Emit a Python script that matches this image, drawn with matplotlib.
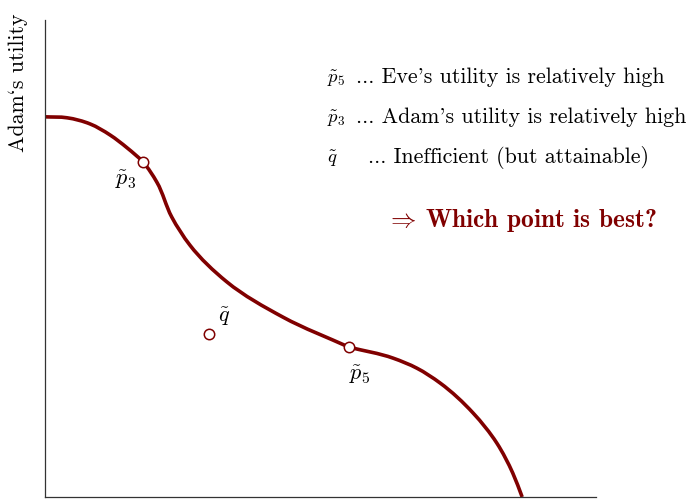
import matplotlib.pyplot as plt
from matplotlib.path import Path
from matplotlib.patches import PathPatch

plt.rcParams["font.family"] = "cmr10"
plt.rcParams["mathtext.fontset"] = "cm"
plt.rcParams["axes.unicode_minus"] = False

# Utility possibility frontier (Eve on x, Adam on y), drawn in two pieces
# that meet at p5
upper_x = [0.00, 0.40, 0.82, 1.18, 1.49, 1.78, 2.03, 2.30, 2.63, 3.30, 4.32, 5.52]
upper_y = [7.97, 7.95, 7.82, 7.59, 7.32, 7.02, 6.60, 5.87, 5.28, 4.51, 3.77, 3.14]
lower_x = [5.52, 6.32, 6.75, 7.17, 7.77, 8.20, 8.49, 8.66]
lower_y = [3.14, 2.91, 2.70, 2.39, 1.76, 1.13, 0.50, 0.00]

frontier_pts = {"p3": (1.78, 7.02), "p5": (5.52, 3.14)}
inner_pt = (2.98, 3.42)

red = "#800000"
# rough pixels per data unit, so the spline spacing follows screen distance
SX, SY = 55.1, 47.7


def smooth_path(xs, ys):
    # cubic Bezier through every point, chord-length Catmull-Rom tangents
    n = len(xs)
    dt = [((xs[i + 1] - xs[i]) ** 2 * SX ** 2 + (ys[i + 1] - ys[i]) ** 2 * SY ** 2) ** 0.5
          for i in range(n - 1)]
    mx, my = [], []
    for i in range(n):
        if i == 0:
            mx.append((xs[1] - xs[0]) / dt[0])
            my.append((ys[1] - ys[0]) / dt[0])
        elif i == n - 1:
            mx.append((xs[i] - xs[i - 1]) / dt[i - 1])
            my.append((ys[i] - ys[i - 1]) / dt[i - 1])
        else:
            a, b = dt[i - 1], dt[i]
            mx.append(((xs[i] - xs[i - 1]) / a * b + (xs[i + 1] - xs[i]) / b * a) / (a + b))
            my.append(((ys[i] - ys[i - 1]) / a * b + (ys[i + 1] - ys[i]) / b * a) / (a + b))
    verts = [(xs[0], ys[0])]
    codes = [Path.MOVETO]
    for i in range(n - 1):
        h = dt[i] / 3
        verts += [(xs[i] + mx[i] * h, ys[i] + my[i] * h),
                  (xs[i + 1] - mx[i + 1] * h, ys[i + 1] - my[i + 1] * h),
                  (xs[i + 1], ys[i + 1])]
        codes += [Path.CURVE4] * 3
    return Path(verts, codes)


fig = plt.figure(figsize=(6.9, 4.99), dpi=100)
ax = fig.add_axes([45 / 690, 2 / 499, 551 / 690, 477 / 499])
ax.set_xlim(0, 10)
ax.set_ylim(0, 10)

for xs, ys in [(upper_x, upper_y), (lower_x, lower_y)]:
    ax.add_patch(PathPatch(smooth_path(xs, ys), fill=False, edgecolor=red,
                           lw=2.6, capstyle="butt", zorder=2))
for px, py in frontier_pts.values():
    ax.plot(px, py, "o", ms=7.5, mfc="white", mec=red, mew=1.1, zorder=3)
ax.plot(*inner_pt, "o", ms=7.5, mfc="white", mec=red, mew=1.1, zorder=3)

ax.annotate(r"$\tilde{p}_3$", frontier_pts["p3"], xytext=(-12, -13),
            textcoords="offset points", fontsize=16, ha="center", va="center")
ax.annotate(r"$\tilde{p}_5$", frontier_pts["p5"], xytext=(8, -20),
            textcoords="offset points", fontsize=16, ha="center", va="center")
ax.annotate(r"$\tilde{q}$", inner_pt, xytext=(11, 12),
            textcoords="offset points", fontsize=16, ha="center", va="center")

for side in ["top", "right"]:
    ax.spines[side].set_visible(False)
for side in ["left", "bottom"]:
    ax.spines[side].set_color("#333333")
    ax.spines[side].set_linewidth(0.9)
ax.set_xticks([])
ax.set_yticks([])

fig.text(18 / 690, 1 - 83 / 499, "Adam`s utility", rotation=90,
         fontsize=15.8, ha="center", va="center")

# explanation block
rows = [
    (r"$\tilde{p}_5$", "... Eve's utility is relatively high", 356),
    (r"$\tilde{p}_3$", "... Adam's utility is relatively high", 356),
    (r"$\tilde{q}$", "... Inefficient (but attainable)", 368),
]
for i, (sym, txt, x0) in enumerate(rows):
    yb = 1 - (83 + 40 * i) / 499
    fig.text(327 / 690, yb, sym, fontsize=13.5, ha="left", va="baseline")
    fig.text(x0 / 690, yb, txt, fontsize=15.8, ha="left", va="baseline")

fig.text(386 / 690, 1 - 227 / 499, r"$\Rightarrow\!$ Which point is best?",
         fontsize=18.3, color=red, family="cmb10", ha="left", va="baseline")

fig.savefig("out.png", dpi=100)
